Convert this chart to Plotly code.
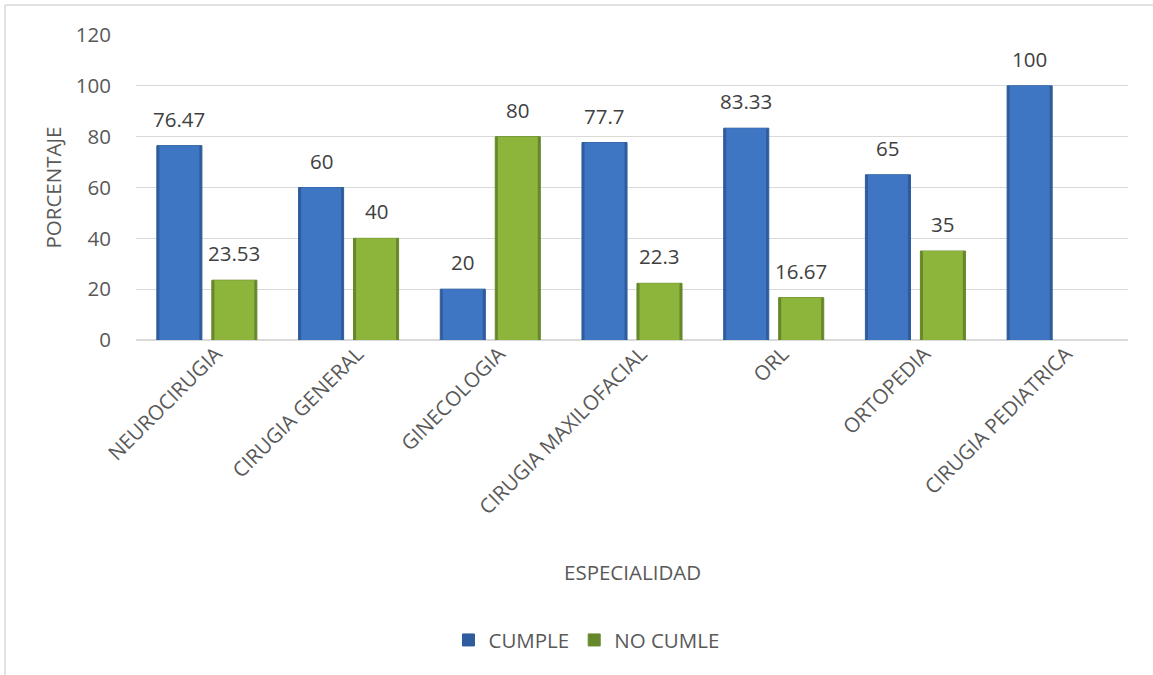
import numpy as np
import plotly.graph_objects as go

# Porcentaje de cumplimiento por especialidad
especialidades = ["NEUROCIRUGIA", "CIRUGIA GENERAL", "GINECOLOGIA", "CIRUGIA MAXILOFACIAL",
                  "ORL", "ORTOPEDIA", "CIRUGIA PEDIATRICA"]
cumple = [76.47, 60, 20, 77.7, 83.33, 65, 100]
no_cumple = [23.53, 40, 80, 22.3, 16.67, 35, None]
y_ticks = [0, 20, 40, 60, 80, 100, 120]

FONT = "Open Sans"
FS = 20.5
TXT = "#595959"
GRID = "#D9D9D9"

x = np.arange(len(especialidades))

series = [
    # name, values, offset, face colour, edge colour
    ("CUMPLE", cumple, -0.353, "#3F76C4", "#2E5C9C"),
    ("NO CUMLE", no_cumple, 0.035, "#8DB53C", "#67882A"),
]
BAR_W = 0.318
INSET = 0.018

fig = go.Figure()
annotations = []
for name, vals, off, face, edge in series:
    # darker outer body gives the bevelled side edges
    fig.add_trace(go.Bar(
        x=x, y=vals, name=name, offset=off, width=BAR_W,
        marker=dict(color=edge, line=dict(color=edge, width=1)),
        showlegend=True,
    ))
    # lighter inner face
    fig.add_trace(go.Bar(
        x=x, y=vals, name=name, offset=off + INSET, width=BAR_W - 2 * INSET,
        marker=dict(color=face, line=dict(width=0)),
        showlegend=False, hoverinfo="skip",
    ))
    for xi, v in zip(x, vals):
        if v is None:
            continue
        annotations.append(dict(
            x=xi + off + BAR_W / 2, y=v, xref="x", yref="y",
            text=f"{v:g}", showarrow=False, yanchor="middle", yshift=27,
            font=dict(family=FONT, size=FS, color="#404040"),
        ))

annotations += [
    dict(text="ESPECIALIDAD", x=0.5, y=-0.761, xref="paper", yref="paper",
         showarrow=False, xanchor="center", yanchor="middle",
         font=dict(family=FONT, size=FS, color=TXT)),
    dict(text="PORCENTAJE", x=-0.0837, y=0.5, xref="paper", yref="paper",
         showarrow=False, textangle=-90, xanchor="center", yanchor="middle",
         font=dict(family=FONT, size=FS, color=TXT)),
]

fig.update_layout(
    width=1153, height=675,
    margin=dict(l=136, r=25, t=35, b=335),
    paper_bgcolor="white", plot_bgcolor="white",
    barmode="overlay",
    showlegend=True,
    legend=dict(orientation="h", x=0.315, y=-0.984, xanchor="left", yanchor="middle",
                font=dict(family=FONT, size=FS, color=TXT), itemwidth=30,
                traceorder="normal"),
    annotations=annotations,
    shapes=[
        dict(type="line", xref="paper", yref="paper", x0=-0.132, x1=1.03,
             y0=1.098, y1=1.098, line=dict(color=GRID, width=1.5)),
        dict(type="line", xref="paper", yref="paper", x0=-0.132, x1=-0.132,
             y0=1.098, y1=-1.2, line=dict(color=GRID, width=1.5)),
    ],
)

fig.update_xaxes(
    range=[-0.5, len(especialidades) - 0.5],
    tickmode="array", tickvals=x, ticktext=especialidades,
    tickangle=-45, showgrid=False, zeroline=False,
    showline=False, ticks="", ticklabelshift=9, ticklabelstandoff=-3,
    tickfont=dict(family=FONT, size=FS, color=TXT),
)
fig.update_yaxes(
    range=[0, 120], tickmode="array", tickvals=y_ticks,
    showgrid=True, gridcolor=GRID, gridwidth=1.3,
    zeroline=True, zerolinecolor=GRID, zerolinewidth=2,
    showline=False, ticks="", ticklabelstandoff=24,
    tickfont=dict(family=FONT, size=FS, color=TXT),
)

fig.write_html("out.html")
